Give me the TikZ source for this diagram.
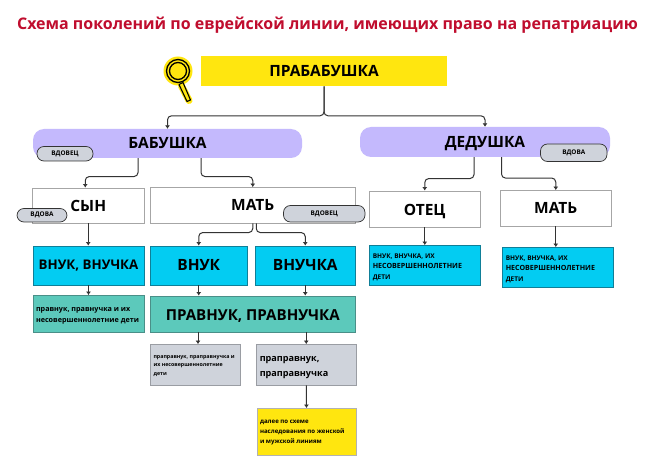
\documentclass[tikz,border=0pt]{standalone}
\usepackage{fontspec}
\setmainfont[BoldFont={Open Sans Bold}]{Open Sans}
\newfontfamily\titlefont[BoldFont={Open Sans Bold}]{Open Sans}
\usetikzlibrary{arrows.meta,calc}
\definecolor{crim}{HTML}{C00D2E}
\definecolor{ylw}{HTML}{FFE60F}
\definecolor{lav}{HTML}{C4B9FD}
\definecolor{cyn}{HTML}{03CCF2}
\definecolor{cynb}{HTML}{0F7F98}
\definecolor{tl}{HTML}{5CC9BB}
\definecolor{tlb}{HTML}{4A8F88}
\definecolor{gry}{HTML}{CFD3DB}
\definecolor{gryb}{HTML}{9A9DA3}
\definecolor{ln}{HTML}{333333}
\tikzset{
 boxn/.style={rectangle,inner sep=0pt,line width=0.9pt,align=center,text=black},
 whitebox/.style={boxn,draw=black!35,fill=white},
 bluebox/.style={boxn,draw=cynb,fill=cyn},
 tealbox/.style={boxn,draw=tlb,fill=tl},
 graybox/.style={boxn,draw=gryb,fill=gry},
 yellowbox/.style={boxn,draw=black!30,fill=ylw},
 yellowflat/.style={boxn,fill=ylw},
 pill/.style={rectangle,rounded corners=11pt,inner sep=0pt,fill=lav,text=black},
 tagn/.style={rectangle,rounded corners=7pt,inner sep=0pt,draw=black!80,line width=0.7pt,fill=gry,font=\bfseries\fontsize{6.4}{7}\selectfont,text=black},
 conn/.style={draw=ln,line width=1pt,rounded corners=4pt,-{Latex[length=3.5pt,width=5pt]}},
 bigt/.style={font=\bfseries\fontsize{#1}{#1}\selectfont},
 bluet/.style={font=\bfseries\fontsize{6.5}{10.3}\selectfont},
}
\newcommand{\bx}[6]{\node[#1,minimum width=#4pt-#3pt,minimum height=#6pt-#5pt] (#2) at ({(#3+#4)/2},{(#5+#6)/2})}
% text moved down without changing the node's box
\newcommand{\dn}[2]{\raisebox{-#1}[\height][\depth]{#2}}
\newcommand{\lines}[3]{\dn{#1}{\parbox{#2}{\raggedright #3}}}
\begin{document}
\begin{tikzpicture}[x=1pt,y=-1pt]
\useasboundingbox (0,0) rectangle (654,476);
\fill[white] (0,0) rectangle (654,476);
\node[font=\titlefont\bfseries\fontsize{16}{18}\selectfont,text=crim] (title) at (327.5,25) {Схема поколений по еврейской линии, имеющих право на репатриацию};
% magnifier
\draw[ylw,line width=7pt,line cap=round] (181.5,86) -- (189,100.5);
\fill[ylw] (178,71) circle (14.5);
\draw[black,line width=1.3pt] (178,71) circle (11.5);
\draw[black,line width=1.3pt] (178,71) circle (8.5);
\draw[black,line width=1.1pt,line join=round,fill=ylw] (179,84.5) -- (183,82.5) -- (190.5,100) -- (187,101.5) -- cycle;
% boxes
\bx{yellowflat}{prab}{201}{447}{56}{86}[bigt=15.5]{ПРАБАБУШКА};
\bx{pill}{bab}{33}{302}{129}{158}[bigt=15.5]{БАБУШКА};
\bx{pill}{ded}{360}{610}{127}{157}[bigt=15.5]{\dn{2pt}{ДЕДУШКА}};
\bx{whitebox}{syn}{32.5}{144}{188}{223}[bigt=15.5]{СЫН};
\bx{whitebox}{mat}{150.5}{355}{187.5}{223}[bigt=15.5]{МАТЬ};
\bx{whitebox}{otec}{369.5}{480}{191}{227}[bigt=15.5]{\dn{2pt}{ОТЕЦ}};
\bx{whitebox}{mat2}{500.5}{611}{190.5}{226}[bigt=15.5]{МАТЬ};
\bx{bluebox}{vv}{33}{144}{246}{285}[bigt=13.3]{ВНУК, ВНУЧКА};
\bx{bluebox}{vnuk}{150.5}{247}{246}{285}[bigt=15.5]{ВНУК};
\bx{bluebox}{vnuch}{255.5}{355}{246}{285}[bigt=15.5]{ВНУЧКА};
\bx{bluebox}{bl1}{369.5}{480}{245.5}{285}[bluet]{\lines{2pt}{104pt}{ВНУК, ВНУЧКА, ИХ\\{\fontsize{7.1}{10.3}\selectfont НЕСОВЕРШЕННОЛЕТНИЕ}\\ДЕТИ}};
\bx{bluebox}{bl2}{502.5}{613}{247.5}{287}[bluet]{\lines{2pt}{104pt}{ВНУК, ВНУЧКА, ИХ\\{\fontsize{7.1}{10.3}\selectfont НЕСОВЕРШЕННОЛЕТНИЕ}\\ДЕТИ}};
\bx{tealbox}{tl1}{33}{144}{295.5}{332}[font=\bfseries\fontsize{7.2}{10.6}\selectfont]{\lines{2pt}{105pt}{правнук, правнучка и их\\несовершеннолетние дети}};
\bx{tealbox}{pr}{150.5}{355}{296}{332}[bigt=15.1]{\dn{2pt}{ПРАВНУК, ПРАВНУЧКА}};
\bx{graybox}{gr1}{150.5}{240.5}{344.5}{385}[font=\bfseries\fontsize{5.3}{8.5}\selectfont]{\lines{1pt}{84pt}{праправнук, праправнучка и\\их несовершеннолетние\\дети}};
\bx{graybox}{gr2}{256.5}{356}{344.5}{385}[font=\bfseries\fontsize{9.1}{15}\selectfont]{\lines{3pt}{93pt}{праправнук,\\праправнучка}};
\bx{yellowbox}{yl}{257}{356}{408.5}{455}[font=\bfseries\fontsize{6.1}{10}\selectfont]{\lines{1pt}{93pt}{далее по схеме\\наследования по женской\\и мужской линиям}};
% connectors
\coordinate (g1) at ($(gr1.north)+(2.5,0)$);
\draw[conn] (prab.south) |- ($(bab.north)+(0,-13)$) -- (bab.north);
\draw[conn] (prab.south) |- ($(ded.north)+(0,-11)$) -- (ded.north);
\draw[conn] ([xshift=-29.5pt]bab.south) |- ($(syn.north)+(-3,-11)$) -- ($(syn.north)+(-3,0)$);
\draw[conn] ([xshift=33.5pt]bab.south) |- ($(mat.north)+(0,-10.5)$) -- (mat.north);
\draw[conn] (mat.south) |- ($(vnuk.north)+(0,-13)$) -- (vnuk.north);
\draw[conn] ([xshift=3.5pt]mat.south) |- ($(vnuch.north)+(0,-13)$) -- (vnuch.north);
\draw[conn] (syn.south) -- (syn.south |- vv.north);
\draw[conn] (vv.south) -- (tl1.north);
\draw[conn] (vnuk.south) -- (vnuk.south |- pr.north);
\draw[conn] (vnuch.south) -- (vnuch.south |- pr.north);
\draw[conn] (g1 |- pr.south) -- (g1);
\draw[conn] (gr2.north |- pr.south) -- (gr2.north);
\draw[conn] (gr2.south) -- (yl.north);
\draw[conn] ([xshift=-11pt]ded.south) |- ($(otec.north)+(0,-12)$) -- (otec.north);
\draw[conn] ([xshift=16.5pt]ded.south) |- ($(mat2.north)+(0,-12)$) -- (mat2.north);
\draw[conn] (otec.south) -- (bl1.north);
\draw[conn] (mat2.south) -- (mat2.south |- bl2.north);
% tags
\bx{tagn}{t1}{37}{93}{146.5}{161}{ВДОВЕЦ};
\bx{tagn}{t2}{17}{67}{208.5}{222}{ВДОВА};
\bx{tagn}{t3}{283.5}{365}{205.5}{222}{ВДОВЕЦ};
\bx{tagn}{t4}{540.5}{607}{144}{161.5}{ВДОВА};
\end{tikzpicture}
\end{document}
